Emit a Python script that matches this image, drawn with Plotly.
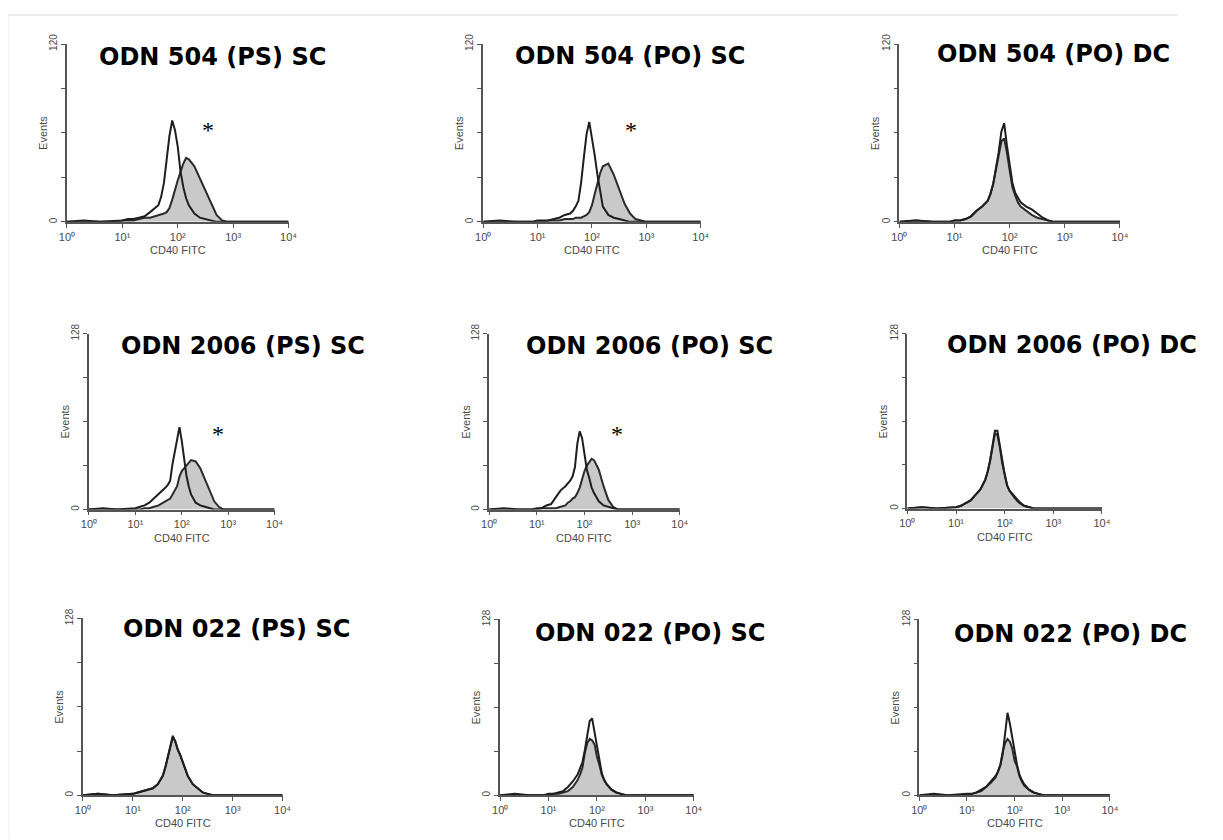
import plotly.graph_objects as go

W, H = 1223, 840
PAGE_MARGIN = 8          # offset of the plot div inside the rendered page
VIEW_SCALE = 0.988       # measured page-to-picture scale of the renderer

# Channel positions (log10 of CD40 FITC intensity)
LOGX = [0.0, 0.3, 0.6, 0.9, 1.0, 1.1, 1.2, 1.3, 1.4, 1.5, 1.6, 1.65, 1.7, 1.75, 1.8,
        1.85, 1.9, 1.95, 2.0, 2.05, 2.1, 2.15, 2.2, 2.3, 2.4, 2.5, 2.6, 2.7, 2.8, 2.9,
        3.0, 3.3, 3.6, 4.0]

TITLES = ["ODN 504 (PS) SC", "ODN 504 (PO) SC", "ODN 504 (PO) DC",
          "ODN 2006 (PS) SC", "ODN 2006 (PO) SC", "ODN 2006 (PO) DC",
          "ODN 022 (PS) SC", "ODN 022 (PO) SC", "ODN 022 (PO) DC"]

X_TICK_TEXT = ["10⁰", "10¹", "10²", "10³", "10⁴"]
Y_TOP_LABEL = ["120", "120", "120", "128", "128", "128", "128", "128", "128"]
STAR_PANELS = [0, 1, 3, 4]

# Events per channel: open (control) and shaded (stimulated) histograms
P1_OPEN = [0, 1, 0, 1, 1, 2, 2, 3, 4, 7, 10, 12, 18, 28, 45, 62, 73, 66, 54, 36, 25, 17, 12, 6, 3, 2, 1, 0, 0, 0, 0, 0, 0, 0]
P1_FILL = [0, 0, 0, 0, 1, 1, 1, 2, 3, 3, 4, 5, 5, 6, 7, 10, 16, 24, 30, 36, 42, 46, 45, 40, 31, 23, 13, 5, 1, 0, 0, 0, 0, 0]
P2_OPEN = [0, 1, 0, 0, 1, 1, 1, 2, 3, 5, 6, 8, 11, 15, 28, 46, 63, 72, 61, 48, 34, 21, 11, 5, 3, 2, 1, 0, 0, 0, 0, 0, 0, 0]
P2_FILL = [0, 0, 0, 0, 0, 0, 1, 1, 1, 2, 2, 2, 3, 3, 3, 4, 5, 7, 12, 20, 28, 35, 40, 42, 34, 23, 13, 6, 2, 1, 0, 0, 0, 0]
P3_OPEN = [0, 1, 0, 0, 1, 1, 2, 4, 8, 11, 15, 20, 27, 38, 50, 65, 71, 55, 40, 28, 21, 17, 14, 11, 9, 6, 3, 1, 0, 0, 0, 0, 0, 0]
P3_FILL = [0, 1, 0, 0, 1, 1, 2, 4, 8, 11, 15, 20, 27, 38, 48, 58, 60, 50, 37, 25, 19, 14, 11, 8, 5, 3, 2, 1, 0, 0, 0, 0, 0, 0]
P4_OPEN = [0, 1, 0, 1, 1, 2, 3, 5, 8, 11, 14, 16, 18, 21, 33, 43, 52, 60, 50, 38, 25, 17, 11, 5, 3, 2, 1, 0, 0, 0, 0, 0, 0, 0]
P4_FILL = [0, 0, 0, 0, 0, 0, 1, 1, 2, 3, 5, 6, 7, 8, 11, 14, 17, 24, 28, 30, 32, 34, 36, 35, 30, 22, 14, 6, 2, 0, 0, 0, 0, 0]
P5_OPEN = [0, 1, 0, 0, 1, 1, 3, 4, 9, 14, 17, 19, 21, 24, 31, 48, 57, 52, 42, 29, 23, 16, 12, 6, 3, 2, 1, 0, 0, 0, 0, 0, 0, 0]
P5_FILL = [0, 0, 0, 0, 0, 1, 1, 1, 1, 2, 3, 5, 6, 8, 9, 12, 16, 22, 28, 32, 35, 37, 36, 29, 17, 7, 2, 0, 0, 0, 0, 0, 0, 0]
P6_OPEN = [0, 1, 0, 1, 1, 2, 4, 6, 10, 14, 21, 27, 35, 46, 57, 57, 46, 34, 25, 17, 13, 11, 9, 5, 2, 1, 0, 0, 0, 0, 0, 0, 0, 0]
P6_FILL = [0, 1, 0, 1, 1, 2, 4, 6, 10, 14, 21, 27, 35, 45, 55, 54, 45, 33, 24, 17, 13, 10, 8, 4, 2, 1, 0, 0, 0, 0, 0, 0, 0, 0]
P7_OPEN = [0, 1, 0, 1, 1, 2, 3, 4, 5, 8, 14, 20, 28, 34, 43, 39, 33, 29, 24, 18, 14, 11, 8, 5, 2, 1, 0, 0, 0, 0, 0, 0, 0, 0]
P7_FILL = [0, 1, 0, 1, 1, 2, 3, 4, 5, 8, 14, 20, 28, 34, 42, 39, 33, 29, 24, 18, 14, 11, 8, 5, 2, 1, 0, 0, 0, 0, 0, 0, 0, 0]
P8_OPEN = [0, 1, 0, 0, 1, 1, 2, 3, 6, 10, 15, 19, 24, 33, 44, 54, 56, 46, 35, 24, 16, 11, 8, 4, 2, 1, 0, 0, 0, 0, 0, 0, 0, 0]
P8_FILL = [0, 0, 0, 0, 0, 1, 1, 2, 3, 6, 11, 15, 20, 31, 38, 41, 40, 37, 28, 22, 15, 11, 8, 4, 2, 1, 0, 0, 0, 0, 0, 0, 0, 0]
P9_OPEN = [0, 1, 0, 1, 1, 1, 2, 4, 6, 10, 14, 17, 22, 30, 44, 60, 52, 43, 32, 22, 15, 11, 8, 4, 2, 1, 0, 0, 0, 0, 0, 0, 0, 0]
P9_FILL = [0, 0, 0, 0, 0, 1, 2, 3, 6, 9, 13, 17, 22, 32, 38, 41, 39, 34, 25, 21, 14, 10, 7, 4, 2, 1, 0, 0, 0, 0, 0, 0, 0, 0]

OPEN = [P1_OPEN, P2_OPEN, P3_OPEN, P4_OPEN, P5_OPEN, P6_OPEN, P7_OPEN, P8_OPEN, P9_OPEN]
FILL = [P1_FILL, P2_FILL, P3_FILL, P4_FILL, P5_FILL, P6_FILL, P7_FILL, P8_FILL, P9_FILL]

# Layout: plot boxes in picture pixels (left, right, top, bottom) and title centres
BOXES = [(67, 289, 42, 220), (484, 702, 42, 220), (901, 1122, 42, 220),
         (89, 275, 332, 508), (490, 681, 332, 508), (909, 1104, 332, 507),
         (83, 283, 617, 794), (501, 695, 618, 794), (921, 1112, 618, 794)]
TITLE_POS = [(213, 55), (631, 54), (1055, 52),
             (243, 344), (651, 344), (1074, 343),
             (237, 628), (651, 632), (1072, 633)]
STAR_POS = {0: (208, 123), 1: (632, 123), 3: (218, 427), 4: (618, 427)}


def fx(x):
    return x / VIEW_SCALE - PAGE_MARGIN


def fy(y):
    return y / VIEW_SCALE - PAGE_MARGIN


def px(x):
    return fx(x) / W


def py(y):
    return 1 - fy(y) / H


AX_COLOR = "#555555"
TXT_COLOR = "#4a4a4a"
fig = go.Figure()
xs = [10 ** v for v in LOGX]
annotations = []

for i in range(9):
    n = "" if i == 0 else str(i + 1)
    l, r, t, b = BOXES[i]
    fig.add_trace(go.Scatter(x=xs, y=FILL[i], mode="lines", fill="tozeroy",
                             fillcolor="#c9c9c9", line=dict(color="#2b2b2b", width=2),
                             xaxis="x" + n, yaxis="y" + n, showlegend=False,
                             hoverinfo="skip"))
    fig.add_trace(go.Scatter(x=xs, y=OPEN[i], mode="lines",
                             line=dict(color="#1e1e1e", width=2),
                             xaxis="x" + n, yaxis="y" + n, showlegend=False,
                             hoverinfo="skip"))
    fig.layout["xaxis" + n] = dict(
        type="log", range=[0, 4], domain=[px(l), px(r)], anchor="y" + n,
        showline=True, linecolor=AX_COLOR, linewidth=1.5, showgrid=False,
        zeroline=False, ticks="outside", ticklen=4, tickcolor=AX_COLOR,
        tickvals=[1, 10, 100, 1000, 10000], ticktext=X_TICK_TEXT,
        tickfont=dict(family="Liberation Sans", size=11, color=TXT_COLOR),
        fixedrange=True)
    fig.layout["yaxis" + n] = dict(
        range=[0, 128], domain=[py(b), py(t)], anchor="x" + n,
        showline=True, linecolor=AX_COLOR, linewidth=1.5, showgrid=False,
        zeroline=False, ticks="outside", ticklen=4, tickcolor=AX_COLOR,
        tickvals=[0, 32, 64, 96, 128], ticktext=["0", "", "", "", Y_TOP_LABEL[i]],
        tickangle=-90,
        tickfont=dict(family="Liberation Sans", size=10, color=TXT_COLOR),
        fixedrange=True)
    annotations.append(dict(text="CD40 FITC", xref="x" + n + " domain", yref="y" + n + " domain",
                            x=0.5, y=0, yshift=-28, yanchor="middle", showarrow=False,
                            font=dict(family="Liberation Sans", size=11, color=TXT_COLOR)))
    annotations.append(dict(text="Events", xref="x" + n + " domain", yref="y" + n + " domain",
                            x=0, y=0.5, xshift=-24, xanchor="center", textangle=-90,
                            showarrow=False,
                            font=dict(family="Liberation Sans", size=11, color=TXT_COLOR)))
    tx, ty = TITLE_POS[i]
    annotations.append(dict(text="<b>" + TITLES[i] + "</b>", xref="paper", yref="paper",
                            x=px(tx), y=py(ty), xanchor="center", yanchor="middle",
                            showarrow=False,
                            font=dict(family="DejaVu Sans", size=24, color="#000000")))
    if i in STAR_PANELS:
        sx, sy = STAR_POS[i]
        annotations.append(dict(text="*", xref="paper", yref="paper",
                                x=px(sx), y=py(sy + 5), xanchor="center",
                                yanchor="middle", showarrow=False,
                                font=dict(family="Liberation Serif", size=24, color="#000000")))

shapes = [
    dict(type="line", xref="paper", yref="paper", x0=px(8), x1=px(1180),
         y0=py(13), y1=py(13), line=dict(color="#e6e6e6", width=1.5)),
    dict(type="line", xref="paper", yref="paper", x0=px(9), x1=px(9),
         y0=0, y1=py(13), line=dict(color="#eeeeee", width=1)),
]

fig.update_layout(width=W, height=H, margin=dict(l=0, r=0, t=0, b=0),
                  paper_bgcolor="white", plot_bgcolor="white",
                  annotations=annotations, shapes=shapes, showlegend=False)

fig.write_html("out.html", config={"displayModeBar": False})
